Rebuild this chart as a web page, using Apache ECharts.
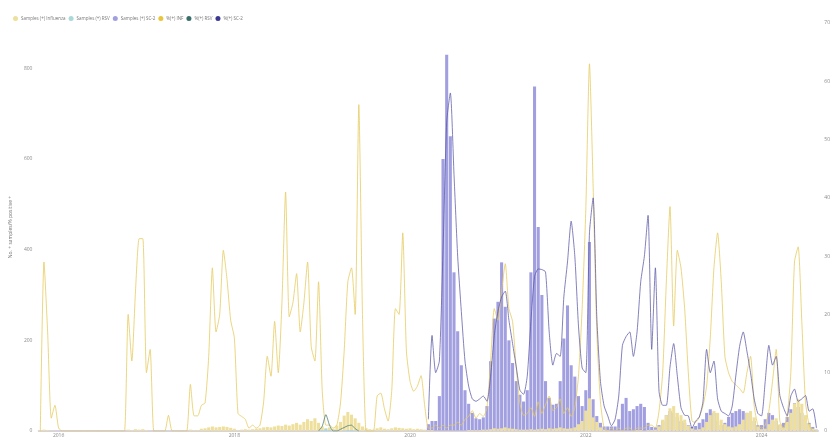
<!DOCTYPE html>
<html>
<head>
<meta charset="utf-8">
<title>Respiratory surveillance</title>
<script src="https://cdn.jsdelivr.net/npm/echarts@6/dist/echarts.min.js"></script>
<style>
html, body { margin: 0; padding: 0; background: #fff; }
#chart { width: 833px; height: 438px; }
</style>
</head>
<body>
<div id="chart"></div>
<script>
// half-month periods, second half of Oct 2015 -> Aug 2024
const startYear = 2015
const startMonth = 10
const startHalf = 1
const periodCount = 213
const periods = []
for (let k = 0; k < periodCount; k++) {
  const h = startHalf + k
  const m = startMonth - 1 + Math.floor(h / 2)
  const y = startYear + Math.floor(m / 12)
  const mm = (m % 12) + 1
  periods.push(y + '-' + String(mm).padStart(2, '0') + (h % 2 === 0 ? 'a' : 'b'))
}

// % positive influenza (right axis)
const infPct = [
  0, 29, 17, 2.2, 4.4, 0.5, 0, 0, 0, 0,
  0, 0, 0, 0, 0, 0, 0, 0, 0, 0,
  0, 0, 0, 0, 20, 12, 24, 33, 33, 10,
  14, 0, 0, 0, 0, 2.7, 0, 0, 0, 0,
  0, 8, 2.6, 2.6, 4.4, 4.8, 12.8, 28, 17, 20,
  31, 26, 19, 16, 3, 2.5, 2, 0.5, 1, 0.5,
  1, 5, 12.8, 9.4, 18.8, 10, 22, 41, 19.6, 22,
  27, 17, 22, 29, 14.5, 12, 25.6, 7, 1, 1,
  0.5, 1, 4.8, 13.7, 25.6, 28, 20, 56, 20, 0,
  0, 0, 6, 6.5, 3.8, 1.7, 7, 21, 20, 34,
  13.7, 8.5, 6.8, 7.7, 9.5, 4.3, 0.5, 0.5, 1, 0.5,
  1, 0.5, 1, 1, 1.5, 1, 2, 2.5, 3.5, 2.2,
  3, 2.5, 4, 12, 21, 19, 24, 28.7, 21, 18.8,
  10.8, 4.8, 2.7, 3, 4, 2.5, 5, 3, 4.5, 6,
  3.5, 4, 5.5, 3, 4, 2.5, 4, 9.4, 21, 38,
  63, 42, 17, 5, 0.5, 0, 0.5, 0, 0.5, 0,
  0.5, 0.5, 0, 0.5, 0.5, 0.5, 1, 1, 0.5, 3.4,
  10, 25.6, 38.5, 18, 31, 28, 21, 10, 1.7, 1.5,
  2.4, 4.3, 7.7, 16, 28, 34, 25.6, 12.8, 10, 8.5,
  7.9, 7.3, 6.5, 10, 12.8, 4.3, 1, 0.5, 1, 3.4,
  8.5, 14, 1.7, 0.5, 2.6, 10, 29, 31.6, 18.8, 5,
  1, 0, 0
]

// % positive SARS-CoV-2 (right axis), none before 2020
const sc2Pct = [
  null, null, null, null, null, null, null, null, null, null,
  null, null, null, null, null, null, null, null, null, null,
  null, null, null, null, null, null, null, null, null, null,
  null, null, null, null, null, null, null, null, null, null,
  null, null, null, null, null, null, null, null, null, null,
  null, null, null, null, null, null, null, null, null, null,
  null, null, null, null, null, null, null, null, null, null,
  null, null, null, null, null, null, null, null, null, null,
  null, null, null, null, null, null, null, null, null, null,
  null, null, null, null, null, null, null, null, null, null,
  null, null, null, null, null, null, 2, 16.4, 10, 12,
  31, 53, 58, 44, 30, 20.5, 12, 7.7, 5.5, 5.1,
  5.5, 6, 5.1, 9.4, 16.4, 20.5, 23, 24, 19, 15,
  11, 7, 6.3, 9.4, 18.8, 26.5, 27.8, 27.7, 27.3, 17,
  11.3, 13.3, 12.8, 23, 29, 36, 30, 18, 10.8, 10,
  34, 40, 19.6, 8.5, 4.3, 2.6, 0.9, 2, 6, 14.7,
  16.2, 17, 12.8, 17, 25.6, 30, 37, 14, 28, 6.8,
  4.4, 4.4, 11, 15, 9.4, 4, 2.7, 2.6, 0.5, 1.7,
  2.4, 5, 14, 10, 12, 5.5, 3.4, 3, 2.6, 4.3,
  9.6, 14.5, 17, 13.7, 10, 5.5, 3, 2.6, 8.5, 14.7,
  11.3, 12.8, 6.1, 4, 2.6, 6, 7.2, 5.1, 5.5, 6.1,
  3.4, 3.8, 0.5
]

// % positive RSV (right axis), only a short run in 2019
const rsvPct = [
  null, null, null, null, null, null, null, null, null, null,
  null, null, null, null, null, null, null, null, null, null,
  null, null, null, null, null, null, null, null, null, null,
  null, null, null, null, null, null, null, null, null, null,
  null, null, null, null, null, null, null, null, null, null,
  null, null, null, null, null, null, null, null, null, null,
  null, null, null, null, null, null, null, null, null, null,
  null, null, null, null, null, null, 0, 0.8, 2.8, 1,
  0, 0, 0.3, 0.6, 0.9, 1, 0.4, 0, null, null
]

// positive samples, SARS-CoV-2 (left axis)
const sc2Samples = [
  0, 0, 0, 0, 0, 0, 0, 0, 0, 0,
  0, 0, 0, 0, 0, 0, 0, 0, 0, 0,
  0, 0, 0, 0, 0, 0, 0, 0, 0, 0,
  0, 0, 0, 0, 0, 0, 0, 0, 0, 0,
  0, 0, 0, 0, 0, 0, 0, 0, 0, 0,
  0, 0, 0, 0, 0, 0, 0, 0, 0, 0,
  0, 0, 0, 0, 0, 0, 0, 0, 0, 0,
  0, 0, 0, 0, 0, 0, 0, 0, 0, 0,
  0, 0, 0, 0, 0, 0, 0, 0, 0, 0,
  0, 0, 0, 0, 0, 0, 0, 0, 0, 0,
  0, 0, 0, 0, 0, 0, 15, 22, 22, 77,
  600, 830, 650, 350, 220, 145, 90, 60, 40, 28,
  26, 30, 55, 154, 248, 285, 372, 274, 200, 150,
  110, 80, 65, 90, 350, 760, 450, 300, 110, 73,
  58, 60, 110, 204, 277, 145, 120, 77, 55, 90,
  417, 70, 33, 18, 10, 10, 10, 10, 26, 60,
  73, 44, 48, 55, 60, 53, 18, 9, 8, 13,
  22, 35, 44, 40, 30, 22, 18, 13, 9, 11,
  18, 26, 40, 48, 40, 22, 13, 18, 31, 40,
  44, 48, 44, 40, 31, 22, 13, 13, 26, 40,
  35, 22, 13, 18, 31, 48, 61, 53, 40, 26,
  18, 9, 3
]

// positive samples, influenza (left axis)
const infSamples = [
  2, 3, 2, 1, 1, 0, 0, 0, 0, 0,
  0, 0, 0, 0, 0, 0, 0, 0, 0, 0,
  0, 0, 0, 0, 3, 2, 4, 3, 4, 2,
  1, 0, 0, 0, 0, 1, 0, 0, 0, 0,
  0, 3, 2, 2, 5, 6, 8, 10, 8, 9,
  10, 9, 7, 5, 2, 3, 4, 3, 4, 5,
  6, 8, 9, 8, 10, 12, 11, 14, 12, 15,
  18, 14, 20, 26, 22, 28, 18, 10, 6, 8,
  5, 12, 20, 34, 42, 36, 28, 18, 10, 6,
  4, 3, 6, 8, 5, 4, 6, 8, 7, 6,
  5, 6, 4, 5, 4, 3, 2, 2, 1, 1,
  1, 1, 1, 1, 1, 1, 1, 2, 2, 2,
  2, 3, 3, 4, 6, 5, 6, 8, 6, 5,
  4, 3, 3, 3, 4, 3, 4, 5, 4, 6,
  5, 6, 8, 6, 5, 6, 8, 15, 22, 45,
  72, 30, 20, 8, 3, 2, 1, 1, 1, 1,
  1, 1, 1, 2, 2, 1, 2, 2, 3, 10,
  25, 35, 50, 55, 40, 35, 25, 12, 5, 3,
  4, 8, 20, 35, 44, 40, 25, 15, 10, 8,
  10, 15, 25, 40, 44, 30, 10, 4, 5, 15,
  25, 28, 15, 8, 20, 40, 60, 70, 60, 35,
  15, 5, 2
]

// positive samples, RSV (left axis)
const rsvSamples = [
  0, 0, 0, 0, 0, 0, 0, 0, 0, 0,
  0, 0, 0, 0, 0, 0, 0, 0, 0, 0,
  0, 0, 0, 0, 0, 0, 0, 0, 0, 0,
  0, 0, 0, 0, 0, 0, 0, 0, 0, 0,
  0, 0, 0, 0, 0, 0, 0, 0, 0, 0,
  0, 0, 0, 0, 0, 0, 0, 0, 0, 0,
  0, 0, 0, 0, 0, 0, 0, 0, 0, 0,
  0, 0, 0, 0, 0, 0, 0, 2, 5, 2,
  0, 0, 0, 1, 2, 2, 1, 0, 0, 0
]

const labelStyle = { fontSize: 5, color: '#8a8a8a', fontFamily: 'Open Sans' }

const chart = echarts.init(document.getElementById('chart'))
chart.setOption({
  animation: false,
  backgroundColor: '#fff',
  textStyle: { fontFamily: 'Open Sans' },
  legend: {
    left: 8,
    top: 11,
    icon: 'circle',
    itemWidth: 5,
    itemHeight: 5,
    itemGap: 3,
    textStyle: { fontSize: 4.5, color: '#777', fontFamily: 'Open Sans', padding: [0, 0, 0, -2] },
    data: ['Samples (+) Influenza', 'Samples (+) RSV', 'Samples (+) SC-2', '%(+) INF', '%(+) RSV', '%(+) SC-2']
  },
  grid: {
    left: 33,
    right: 13,
    top: 23,
    bottom: 5
  },
  xAxis: {
    type: 'category',
    data: periods,
    axisTick: { show: false },
    axisLine: { lineStyle: { color: '#c6c4dc', width: 1.5 } },
    axisLabel: Object.assign({}, labelStyle, {
      margin: 2,
      interval: (idx, val) => val.endsWith('-01a') && Number(val.slice(0, 4)) % 2 === 0,
      formatter: val => val.slice(0, 4)
    })
  },
  yAxis: [
    {
      type: 'value',
      min: 0,
      max: 900,
      interval: 200,
      name: 'No. + samples/% positive +',
      nameLocation: 'middle',
      nameGap: 20,
      nameTextStyle: { fontSize: 5, color: '#777' },
      axisLabel: Object.assign({}, labelStyle, { margin: 6, showMaxLabel: false }),
      axisLine: { show: false },
      axisTick: { show: false },
      splitLine: { show: false }
    },
    {
      type: 'value',
      min: 0,
      max: 70,
      interval: 10,
      position: 'right',
      axisLabel: Object.assign({}, labelStyle, { margin: 6 }),
      axisLine: { show: false },
      axisTick: { show: false },
      splitLine: { show: false }
    }
  ],
  series: [
    {
      name: 'Samples (+) SC-2',
      type: 'bar',
      yAxisIndex: 0,
      data: sc2Samples,
      barCategoryGap: '16%',
      barGap: '-100%',
      itemStyle: { color: '#a19fe0' }
    },
    {
      name: 'Samples (+) Influenza',
      type: 'bar',
      yAxisIndex: 0,
      data: infSamples,
      barGap: '-100%',
      itemStyle: { color: '#eee09c' }
    },
    {
      name: 'Samples (+) RSV',
      type: 'bar',
      yAxisIndex: 0,
      data: rsvSamples,
      barGap: '-100%',
      itemStyle: { color: '#a9d9d8' }
    },
    {
      name: '%(+) INF',
      type: 'line',
      yAxisIndex: 1,
      data: infPct,
      symbol: 'none',
      smooth: 0.2,
      itemStyle: { color: '#e8c53a' },
      lineStyle: { color: '#e6cc63', width: 1, opacity: 0.8 }
    },
    {
      name: '%(+) RSV',
      type: 'line',
      yAxisIndex: 1,
      data: rsvPct,
      symbol: 'none',
      smooth: 0.2,
      itemStyle: { color: '#386e69' },
      lineStyle: { color: '#4f7f7a', width: 1, opacity: 0.8 }
    },
    {
      name: '%(+) SC-2',
      type: 'line',
      yAxisIndex: 1,
      data: sc2Pct,
      symbol: 'none',
      smooth: 0.2,
      itemStyle: { color: '#3b3891' },
      lineStyle: { color: '#5b58a6', width: 1, opacity: 0.75 }
    }
  ]
})
</script>
</body>
</html>
